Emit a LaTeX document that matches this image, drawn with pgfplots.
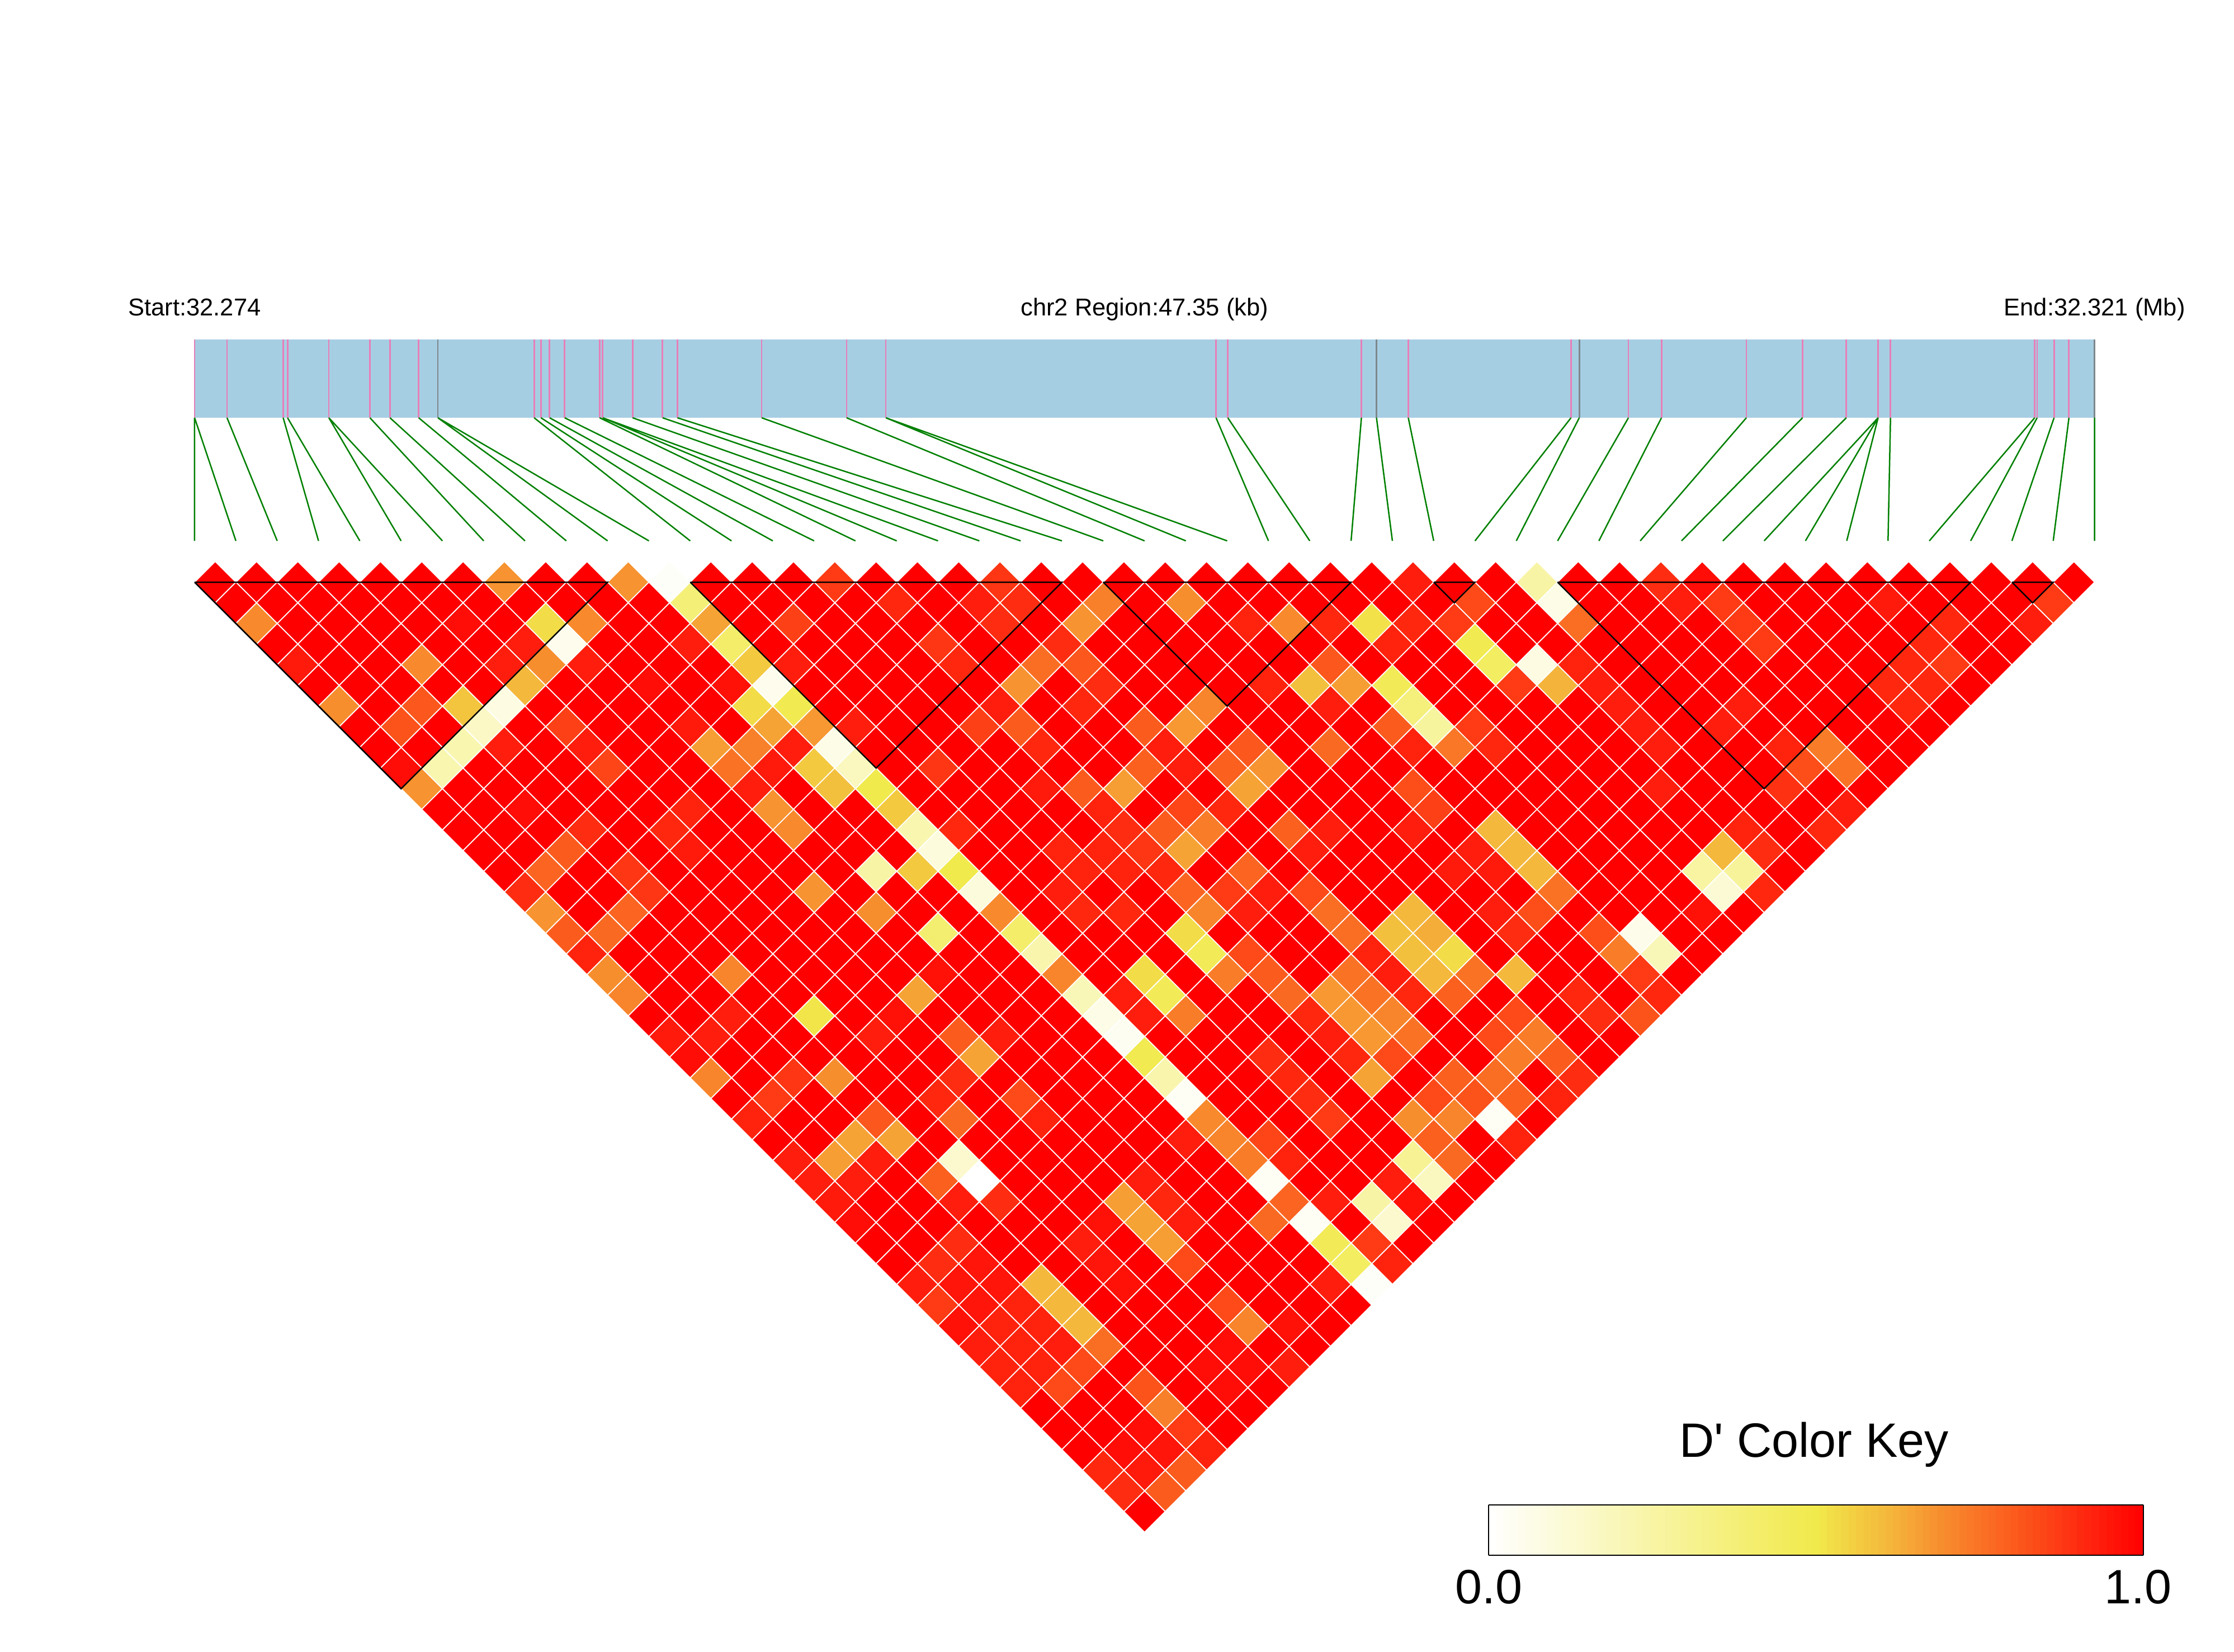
\documentclass[border=0pt]{standalone}
\usepackage{pgfplots}
\pgfplotsset{compat=1.18}
\usepackage{fontspec}
\setmainfont{Liberation Sans}
\newfontfamily\keyfont{Liberation Sans}
\definecolor{barblue}{RGB}{166,206,227}
\definecolor{snppink}{RGB}{231,127,184}
\definecolor{snpgrey}{RGB}{125,135,140}
\definecolor{linkgreen}{RGB}{0,128,0}
\begin{document}
\begin{tikzpicture}
\begin{axis}[
  scale only axis, width=1598pt, height=1181.2pt,
  xmin=-9.423, xmax=98.754, ymin=-27.188, ymax=52.774,
  y dir=reverse, hide axis, clip=false, clip mode=individual,
  colormap={ld}{rgb255(0pt)=(255,255,255); rgb255(50pt)=(241,234,76); rgb255(57pt)=(243,201,64); rgb255(61pt)=(244,184,60); rgb255(68pt)=(247,147,48); rgb255(76pt)=(250,110,36); rgb255(84pt)=(253,74,24); rgb255(93pt)=(255,30,13); rgb255(100pt)=(255,0,0)},
  colormap name=ld,
  point meta min=0, point meta max=1,
  colorbar horizontal, colorbar sampled,
  colorbar style={
    samples=90, at={(parent axis.south west)}, anchor=south west,
    xshift=1064.8pt, yshift=77.4pt,
    width=468.4pt, height=36pt,
    xtick={0,0.992}, xticklabels={0.0,1.0}, major tick length=0pt, ytick=\empty,
    xticklabel style={font=\fontsize{34.5}{36}\selectfont, yshift=-7pt},
    axis line style={black, line width=1pt}
  },
]
% chromosome bar
\addplot[fill=barblue, draw=none, forget plot] coordinates {(0,-10.75) (92,-10.75) (92,-6.96) (0,-6.96)} --cycle;
% SNP positions
\addplot[snppink, line width=1.1pt, forget plot, unbounded coords=jump] coordinates {
(0,-10.75)(0,-6.96)(nan,nan)(1.57,-10.75)(1.57,-6.96)(nan,nan)(4.29,-10.75)(4.29,-6.96)(nan,nan)(4.50,-10.75)(4.50,-6.96)(nan,nan)
(6.50,-10.75)(6.50,-6.96)(nan,nan)(8.49,-10.75)(8.49,-6.96)(nan,nan)(9.46,-10.75)(9.46,-6.96)(nan,nan)(10.85,-10.75)(10.85,-6.96)(nan,nan)
(16.44,-10.75)(16.44,-6.96)(nan,nan)(16.77,-10.75)(16.77,-6.96)(nan,nan)(17.19,-10.75)(17.19,-6.96)(nan,nan)(17.92,-10.75)(17.92,-6.96)(nan,nan)
(19.61,-10.75)(19.61,-6.96)(nan,nan)(19.76,-10.75)(19.76,-6.96)(nan,nan)(21.21,-10.75)(21.21,-6.96)(nan,nan)(22.66,-10.75)(22.66,-6.96)(nan,nan)
(23.38,-10.75)(23.38,-6.96)(nan,nan)(27.46,-10.75)(27.46,-6.96)(nan,nan)(31.57,-10.75)(31.57,-6.96)(nan,nan)(33.47,-10.75)(33.47,-6.96)(nan,nan)
(49.46,-10.75)(49.46,-6.96)(nan,nan)(50.03,-10.75)(50.03,-6.96)(nan,nan)(56.50,-10.75)(56.50,-6.96)(nan,nan)(58.77,-10.75)(58.77,-6.96)(nan,nan)
(66.65,-10.75)(66.65,-6.96)(nan,nan)(69.43,-10.75)(69.43,-6.96)(nan,nan)(71.03,-10.75)(71.03,-6.96)(nan,nan)(75.14,-10.75)(75.14,-6.96)(nan,nan)
(77.86,-10.75)(77.86,-6.96)(nan,nan)(79.98,-10.75)(79.98,-6.96)(nan,nan)(81.52,-10.75)(81.52,-6.96)(nan,nan)(82.12,-10.75)(82.12,-6.96)(nan,nan)
(89.10,-10.75)(89.10,-6.96)(nan,nan)(89.22,-10.75)(89.22,-6.96)(nan,nan)(90.04,-10.75)(90.04,-6.96)(nan,nan)(90.76,-10.75)(90.76,-6.96)
};
\addplot[snpgrey, line width=1.1pt, forget plot, unbounded coords=jump] coordinates {
(11.78,-10.75)(11.78,-6.96)(nan,nan)(57.23,-10.75)(57.23,-6.96)(nan,nan)(67.05,-10.75)(67.05,-6.96)(nan,nan)(92,-10.75)(92,-6.96)
};
% links from positions to the matrix
\addplot[linkgreen, line width=1pt, forget plot, unbounded coords=jump] coordinates {
(0,-6.96)(0,-1)(nan,nan)(0,-6.96)(2,-1)(nan,nan)(1.57,-6.96)(4,-1)(nan,nan)(4.29,-6.96)(6,-1)(nan,nan)(4.50,-6.96)(8,-1)(nan,nan)
(6.50,-6.96)(10,-1)(nan,nan)(6.50,-6.96)(12,-1)(nan,nan)(8.49,-6.96)(14,-1)(nan,nan)(9.46,-6.96)(16,-1)(nan,nan)(10.85,-6.96)(18,-1)(nan,nan)
(11.78,-6.96)(20,-1)(nan,nan)(11.78,-6.96)(22,-1)(nan,nan)(16.44,-6.96)(24,-1)(nan,nan)(16.77,-6.96)(26,-1)(nan,nan)(17.19,-6.96)(28,-1)(nan,nan)
(17.92,-6.96)(30,-1)(nan,nan)(19.61,-6.96)(32,-1)(nan,nan)(19.76,-6.96)(34,-1)(nan,nan)(19.76,-6.96)(36,-1)(nan,nan)(21.21,-6.96)(38,-1)(nan,nan)
(22.66,-6.96)(40,-1)(nan,nan)(23.38,-6.96)(42,-1)(nan,nan)(27.46,-6.96)(44,-1)(nan,nan)(31.57,-6.96)(46,-1)(nan,nan)(33.47,-6.96)(48,-1)(nan,nan)
(33.47,-6.96)(50,-1)(nan,nan)(49.46,-6.96)(52,-1)(nan,nan)(50.03,-6.96)(54,-1)(nan,nan)(56.50,-6.96)(56,-1)(nan,nan)(57.23,-6.96)(58,-1)(nan,nan)
(58.77,-6.96)(60,-1)(nan,nan)(66.65,-6.96)(62,-1)(nan,nan)(67.05,-6.96)(64,-1)(nan,nan)(69.43,-6.96)(66,-1)(nan,nan)(71.03,-6.96)(68,-1)(nan,nan)
(75.14,-6.96)(70,-1)(nan,nan)(77.86,-6.96)(72,-1)(nan,nan)(79.98,-6.96)(74,-1)(nan,nan)(81.52,-6.96)(76,-1)(nan,nan)(81.52,-6.96)(78,-1)(nan,nan)
(81.52,-6.96)(80,-1)(nan,nan)(82.12,-6.96)(82,-1)(nan,nan)(89.10,-6.96)(84,-1)(nan,nan)(89.22,-6.96)(86,-1)(nan,nan)(90.04,-6.96)(88,-1)(nan,nan)
(90.76,-6.96)(90,-1)(nan,nan)(92,-6.96)(92,-1)
};
% D' matrix: (i+j, j-i)[D']
\addplot[scatter, only marks, mark=square*, mark size=10.445pt, forget plot,
  scatter/use mapped color={draw=white, fill=mapped color},
  mark options={rotate=45, line width=0.7pt}, point meta=explicit] coordinates {
(1,1)[1] (3,1)[1] (5,1)[1] (7,1)[1] (9,1)[1] (11,1)[1] (13,1)[1] (15,1)[.68] (17,1)[1] (19,1)[1] (21,1)[.68] (23,1)[.02] (25,1)[1] (27,1)[1] (29,1)[1] (31,1)[.87] (33,1)[1] (35,1)[1] (37,1)[1] (39,1)[.88] (41,1)[1] (43,1)[1] (45,1)[1] (47,1)[1] (49,1)[1] (51,1)[1] (53,1)[1] (55,1)[1] (57,1)[1] (59,1)[.93] (61,1)[1] (63,1)[1] (65,1)[.25] (67,1)[1] (69,1)[1] (71,1)[.90] (73,1)[.97] (75,1)[1] (77,1)[1] (79,1)[1] (81,1)[1] (83,1)[1] (85,1)[1] (87,1)[1] (89,1)[1] (91,1)[1]
(2,2)[1] (4,2)[1] (6,2)[1] (8,2)[1] (10,2)[1] (12,2)[1] (14,2)[1] (16,2)[1] (18,2)[1] (20,2)[1] (22,2)[1] (24,2)[.38] (26,2)[1] (28,2)[1] (30,2)[1] (32,2)[1] (34,2)[.91] (36,2)[1] (38,2)[.93] (40,2)[.90] (42,2)[1] (44,2)[.72] (46,2)[1] (48,2)[.69] (50,2)[1] (52,2)[1] (54,2)[1] (56,2)[1] (58,2)[1] (60,2)[1] (62,2)[.84] (64,2)[1] (66,2)[.07] (68,2)[1] (70,2)[1] (72,2)[.93] (74,2)[.87] (76,2)[1] (78,2)[1] (80,2)[1] (82,2)[.94] (84,2)[1] (86,2)[1] (88,2)[1] (90,2)[.87]
(3,3)[.70] (5,3)[1] (7,3)[1] (9,3)[1] (11,3)[1] (13,3)[.97] (15,3)[1] (17,3)[.53] (19,3)[.70] (21,3)[1] (23,3)[1] (25,3)[.65] (27,3)[1] (29,3)[.86] (31,3)[1] (33,3)[1] (35,3)[1] (37,3)[1] (39,3)[.90] (41,3)[1] (43,3)[.68] (45,3)[1] (47,3)[1] (49,3)[1] (51,3)[.92] (53,3)[.70] (55,3)[.91] (57,3)[.52] (59,3)[.91] (61,3)[.87] (63,3)[1] (65,3)[1] (67,3)[.76] (69,3)[1] (71,3)[1] (73,3)[1] (75,3)[.87] (77,3)[1] (79,3)[1] (81,3)[1] (83,3)[1] (85,3)[.91] (87,3)[1] (89,3)[.93]
(4,4)[1] (6,4)[1] (8,4)[1] (10,4)[1] (12,4)[1] (14,4)[1] (16,4)[.93] (18,4)[.05] (20,4)[1] (22,4)[1] (24,4)[.93] (26,4)[.42] (28,4)[1] (30,4)[1] (32,4)[1] (34,4)[1] (36,4)[.88] (38,4)[1] (40,4)[1] (42,4)[.90] (44,4)[1] (46,4)[1] (48,4)[1] (50,4)[1] (52,4)[1] (54,4)[1] (56,4)[1] (58,4)[.92] (60,4)[1] (62,4)[.49] (64,4)[1] (66,4)[1] (68,4)[1] (70,4)[1] (72,4)[1] (74,4)[1] (76,4)[.87] (78,4)[1] (80,4)[1] (82,4)[1] (84,4)[.91] (86,4)[1] (88,4)[1]
(5,5)[.94] (7,5)[1] (9,5)[1] (11,5)[.70] (13,5)[1] (15,5)[.93] (17,5)[.69] (19,5)[.93] (21,5)[1] (23,5)[1] (25,5)[1] (27,5)[.57] (29,5)[.93] (31,5)[1] (33,5)[1] (35,5)[1] (37,5)[.91] (39,5)[1] (41,5)[.76] (43,5)[.81] (45,5)[1] (47,5)[1] (49,5)[1] (51,5)[1] (53,5)[1] (55,5)[.81] (57,5)[1] (59,5)[1] (61,5)[1] (63,5)[.44] (65,5)[.08] (67,5)[.92] (69,5)[1] (71,5)[1] (73,5)[1] (75,5)[1] (77,5)[1] (79,5)[1] (81,5)[1] (83,5)[.91] (85,5)[.87] (87,5)[1]
(6,6)[1] (8,6)[1] (10,6)[1] (12,6)[1] (14,6)[1] (16,6)[.61] (18,6)[1] (20,6)[1] (22,6)[.97] (24,6)[1] (26,6)[.96] (28,6)[.05] (30,6)[1] (32,6)[1] (34,6)[1] (36,6)[1] (38,6)[1] (40,6)[.68] (42,6)[1] (44,6)[.90] (46,6)[1] (48,6)[1] (50,6)[1] (52,6)[.92] (54,6)[.59] (56,6)[.66] (58,6)[.47] (60,6)[1] (62,6)[1] (64,6)[.87] (66,6)[.62] (68,6)[.93] (70,6)[1] (72,6)[1] (74,6)[1] (76,6)[1] (78,6)[1] (80,6)[1] (82,6)[.91] (84,6)[.91] (86,6)[1]
(7,7)[.69] (9,7)[1] (11,7)[.81] (13,7)[.58] (15,7)[.08] (17,7)[1] (19,7)[1] (21,7)[1] (23,7)[1] (25,7)[1] (27,7)[.53] (29,7)[.49] (31,7)[1] (33,7)[1] (35,7)[1] (37,7)[1] (39,7)[.93] (41,7)[1] (43,7)[.91] (45,7)[1] (47,7)[1] (49,7)[.71] (51,7)[1] (53,7)[1] (55,7)[.93] (57,7)[1] (59,7)[.37] (61,7)[1] (63,7)[1] (65,7)[1] (67,7)[1] (69,7)[.93] (71,7)[1] (73,7)[1] (75,7)[.93] (77,7)[1] (79,7)[1] (81,7)[1] (83,7)[.91] (85,7)[1]
(8,8)[1] (10,8)[.82] (12,8)[1] (14,8)[.16] (16,8)[1] (18,8)[.86] (20,8)[1] (22,8)[1] (24,8)[.94] (26,8)[1] (28,8)[.65] (30,8)[.67] (32,8)[.93] (34,8)[1] (36,8)[1] (38,8)[.86] (40,8)[.80] (42,8)[1] (44,8)[1] (46,8)[.80] (48,8)[.67] (50,8)[1] (52,8)[1] (54,8)[1] (56,8)[1] (58,8)[.80] (60,8)[.27] (62,8)[.87] (64,8)[1] (66,8)[1] (68,8)[1] (70,8)[.93] (72,8)[1] (74,8)[.93] (76,8)[1] (78,8)[1] (80,8)[1] (82,8)[1] (84,8)[1]
(9,9)[1] (11,9)[1] (13,9)[.22] (15,9)[.93] (17,9)[1] (19,9)[.93] (21,9)[1] (23,9)[1] (25,9)[.66] (27,9)[.72] (29,9)[.93] (31,9)[.07] (33,9)[1] (35,9)[1] (37,9)[1] (39,9)[1] (41,9)[.91] (43,9)[1] (45,9)[1] (47,9)[.93] (49,9)[1] (51,9)[.81] (53,9)[1] (55,9)[.77] (57,9)[1] (59,9)[.92] (61,9)[.74] (63,9)[.91] (65,9)[1] (67,9)[1] (69,9)[1] (71,9)[.93] (73,9)[1] (75,9)[1] (77,9)[.92] (79,9)[.73] (81,9)[1] (83,9)[1]
(10,10)[.97] (12,10)[.22] (14,10)[1] (16,10)[1] (18,10)[1] (20,10)[.85] (22,10)[1] (24,10)[1] (26,10)[.75] (28,10)[.94] (30,10)[.57] (32,10)[.18] (34,10)[1] (36,10)[.88] (38,10)[1] (40,10)[1] (42,10)[1] (44,10)[1] (46,10)[.79] (48,10)[.93] (50,10)[.79] (52,10)[.68] (54,10)[1] (56,10)[1] (58,10)[1] (60,10)[1] (62,10)[1] (64,10)[1] (66,10)[1] (68,10)[1] (70,10)[1] (72,10)[1] (74,10)[1] (76,10)[1] (78,10)[.83] (80,10)[.75] (82,10)[1]
(11,11)[.68] (13,11)[1] (15,11)[1] (17,11)[1] (19,11)[1] (21,11)[1] (23,11)[1] (25,11)[1] (27,11)[.93] (29,11)[1] (31,11)[.59] (33,11)[.50] (35,11)[1] (37,11)[1] (39,11)[1] (41,11)[.94] (43,11)[.80] (45,11)[.66] (47,11)[1] (49,11)[1] (51,11)[.65] (53,11)[1] (55,11)[1] (57,11)[1] (59,11)[.83] (61,11)[1] (63,11)[1] (65,11)[1] (67,11)[1] (69,11)[1] (71,11)[.93] (73,11)[1] (75,11)[1] (77,11)[.89] (79,11)[1] (81,11)[1]
(12,12)[1] (14,12)[1] (16,12)[.97] (18,12)[1] (20,12)[1] (22,12)[1] (24,12)[.92] (26,12)[1] (28,12)[.68] (30,12)[1] (32,12)[1] (34,12)[.57] (36,12)[1] (38,12)[1] (40,12)[1] (42,12)[1] (44,12)[.92] (46,12)[1] (48,12)[.85] (50,12)[.91] (52,12)[1] (54,12)[1] (56,12)[1] (58,12)[1] (60,12)[.86] (62,12)[1] (64,12)[1] (66,12)[1] (68,12)[1] (70,12)[1] (72,12)[1] (74,12)[1] (76,12)[1] (78,12)[1] (80,12)[.93]
(13,13)[1] (15,13)[1] (17,13)[1] (19,13)[.90] (21,13)[1] (23,13)[.91] (25,13)[1] (27,13)[1] (29,13)[.70] (31,13)[1] (33,13)[1] (35,13)[.22] (37,13)[.91] (39,13)[1] (41,13)[1] (43,13)[1] (45,13)[.90] (47,13)[.80] (49,13)[.73] (51,13)[1] (53,13)[.79] (55,13)[.93] (57,13)[1] (59,13)[.93] (61,13)[1] (63,13)[.61] (65,13)[1] (67,13)[1] (69,13)[1] (71,13)[1] (73,13)[1] (75,13)[.92] (77,13)[1] (79,13)[.91]
(14,14)[1] (16,14)[1] (18,14)[.80] (20,14)[1] (22,14)[1] (24,14)[.94] (26,14)[1] (28,14)[1] (30,14)[1] (32,14)[1] (34,14)[1] (36,14)[.10] (38,14)[1] (40,14)[1] (42,14)[.92] (44,14)[.92] (46,14)[.88] (48,14)[.65] (50,14)[1] (52,14)[1] (54,14)[.93] (56,14)[1] (58,14)[1] (60,14)[1] (62,14)[.93] (64,14)[.61] (66,14)[1] (68,14)[1] (70,14)[1] (72,14)[1] (74,14)[.61] (76,14)[.90] (78,14)[1]
(15,15)[1] (17,15)[.78] (19,15)[1] (21,15)[.88] (23,15)[1] (25,15)[1] (27,15)[1] (29,15)[1] (31,15)[1] (33,15)[.25] (35,15)[.57] (37,15)[.50] (39,15)[1] (41,15)[1] (43,15)[.92] (45,15)[.92] (47,15)[.91] (49,15)[1] (51,15)[.78] (53,15)[1] (55,15)[1] (57,15)[1] (59,15)[1] (61,15)[.94] (63,15)[.94] (65,15)[.61] (67,15)[1] (69,15)[1] (71,15)[1] (73,15)[.26] (75,15)[.28] (77,15)[1]
(16,16)[.90] (18,16)[1] (20,16)[1] (22,16)[.88] (24,16)[1] (26,16)[1] (28,16)[1] (30,16)[.68] (32,16)[1] (34,16)[1] (36,16)[1] (38,16)[.10] (40,16)[1] (42,16)[.93] (44,16)[1] (46,16)[1] (48,16)[.78] (50,16)[.87] (52,16)[.93] (54,16)[.84] (56,16)[1] (58,16)[1] (60,16)[1] (62,16)[1] (64,16)[1] (66,16)[.75] (68,16)[1] (70,16)[1] (72,16)[1] (74,16)[.12] (76,16)[.91]
(17,17)[.68] (19,17)[1] (21,17)[.78] (23,17)[1] (25,17)[1] (27,17)[1] (29,17)[1] (31,17)[1] (33,17)[.69] (35,17)[1] (37,17)[1] (39,17)[.70] (41,17)[1] (43,17)[.91] (45,17)[.91] (47,17)[1] (49,17)[.71] (51,17)[.93] (53,17)[1] (55,17)[.76] (57,17)[1] (59,17)[.61] (61,17)[1] (63,17)[.93] (65,17)[.83] (67,17)[1] (69,17)[1] (71,17)[1] (73,17)[.96] (75,17)[1]
(18,18)[.80] (20,18)[.77] (22,18)[1] (24,18)[1] (26,18)[1] (28,18)[1] (30,18)[1] (32,18)[1] (34,18)[1] (36,18)[.40] (38,18)[1] (40,18)[.42] (42,18)[1] (44,18)[1] (46,18)[1] (48,18)[.53] (50,18)[1] (52,18)[1] (54,18)[1] (56,18)[.76] (58,18)[.59] (60,18)[.63] (62,18)[1] (64,18)[.90] (66,18)[1] (68,18)[.83] (70,18)[.06] (72,18)[1] (74,18)[1]
(19,19)[.92] (21,19)[1] (23,19)[1] (25,19)[1] (27,19)[1] (29,19)[1] (31,19)[1] (33,19)[1] (35,19)[1] (37,19)[1] (39,19)[1] (41,19)[.23] (43,19)[1] (45,19)[1] (47,19)[1] (49,19)[.47] (51,19)[.84] (53,19)[1] (55,19)[1] (57,19)[.92] (59,19)[.59] (61,19)[.53] (63,19)[1] (65,19)[1] (67,19)[1] (69,19)[.73] (71,19)[.20] (73,19)[1]
(20,20)[.69] (22,20)[1] (24,20)[1] (26,20)[.71] (28,20)[1] (30,20)[1] (32,20)[1] (34,20)[1] (36,20)[.96] (38,20)[1] (40,20)[1] (42,20)[.71] (44,20)[1] (46,20)[.53] (48,20)[1] (50,20)[.73] (52,20)[.80] (54,20)[1] (56,20)[.75] (58,20)[.93] (60,20)[.61] (62,20)[.75] (64,20)[.61] (66,20)[1] (68,20)[1] (70,20)[.87] (72,20)[1]
(21,21)[.71] (23,21)[1] (25,21)[1] (27,21)[1] (29,21)[1] (31,21)[1] (33,21)[1] (35,21)[.65] (37,21)[1] (39,21)[1] (41,21)[1] (43,21)[.20] (45,21)[.93] (47,21)[.47] (49,21)[1] (51,21)[1] (53,21)[.77] (55,21)[.67] (57,21)[.75] (59,21)[.91] (61,21)[.79] (63,21)[1] (65,21)[1] (67,21)[.91] (69,21)[1] (71,21)[.91]
(22,22)[1] (24,22)[1] (26,22)[.93] (28,22)[1] (30,22)[.51] (32,22)[1] (34,22)[.96] (36,22)[1] (38,22)[1] (40,22)[1] (42,22)[1] (44,22)[.07] (46,22)[.93] (48,22)[.73] (50,22)[1] (52,22)[1] (54,22)[.91] (56,22)[.67] (58,22)[.71] (60,22)[1] (62,22)[1] (64,22)[.84] (66,22)[1] (68,22)[.90] (70,22)[.82]
(23,23)[.94] (25,23)[.93] (27,23)[1] (29,23)[1] (31,23)[1] (33,23)[.93] (35,23)[1] (37,23)[.80] (39,23)[.93] (41,23)[1] (43,23)[1] (45,23)[.04] (47,23)[1] (49,23)[1] (51,23)[1] (53,23)[1] (55,23)[.93] (57,23)[.67] (59,23)[.75] (61,23)[1] (63,23)[.84] (65,23)[.73] (67,23)[1] (69,23)[1]
(24,24)[.97] (26,24)[1] (28,24)[1] (30,24)[1] (32,24)[1] (34,24)[1] (36,24)[1] (38,24)[.65] (40,24)[1] (42,24)[1] (44,24)[1] (46,24)[.49] (48,24)[1] (50,24)[1] (52,24)[.90] (54,24)[1] (56,24)[.91] (58,24)[.84] (60,24)[1] (62,24)[1] (64,24)[.73] (66,24)[.80] (68,24)[1]
(25,25)[.71] (27,25)[1] (29,25)[.88] (31,25)[.69] (33,25)[1] (35,25)[1] (37,25)[.90] (39,25)[1] (41,25)[1] (43,25)[1] (45,25)[1] (47,25)[.23] (49,25)[1] (51,25)[1] (53,25)[.91] (55,25)[1] (57,25)[.65] (59,25)[1] (61,25)[.79] (63,25)[.76] (65,25)[1] (67,25)[.90]
(26,26)[1] (28,26)[.87] (30,26)[1] (32,26)[1] (34,26)[1] (36,26)[.91] (38,26)[1] (40,26)[.84] (42,26)[1] (44,26)[1] (46,26)[1] (48,26)[.03] (50,26)[1] (52,26)[1] (54,26)[.90] (56,26)[1] (58,26)[1] (60,26)[.84] (62,26)[.82] (64,26)[.79] (66,26)[.92]
(27,27)[.92] (29,27)[1] (31,27)[1] (33,27)[.81] (35,27)[1] (37,27)[.77] (39,27)[1] (41,27)[.92] (43,27)[1] (45,27)[1] (47,27)[1] (49,27)[.70] (51,27)[1] (53,27)[1] (55,27)[.87] (57,27)[1] (59,27)[.69] (61,27)[.71] (63,27)[.03] (65,27)[1]
(28,28)[1] (30,28)[1] (32,28)[.65] (34,28)[.65] (36,28)[1] (38,28)[1] (40,28)[1] (42,28)[1] (44,28)[1] (46,28)[1] (48,28)[.93] (50,28)[.71] (52,28)[.85] (54,28)[1] (56,28)[1] (58,28)[1] (60,28)[.79] (62,28)[1] (64,28)[.92]
(29,29)[.93] (31,29)[.66] (33,29)[.93] (35,29)[1] (37,29)[.14] (39,29)[1] (41,29)[1] (43,29)[1] (45,29)[1] (47,29)[1] (49,29)[1] (51,29)[.73] (53,29)[.92] (55,29)[1] (57,29)[1] (59,29)[.30] (61,29)[.77] (63,29)[1]
(30,30)[.93] (32,30)[.93] (34,30)[1] (36,30)[.79] (38,30)[0] (40,30)[1] (42,30)[1] (44,30)[1] (46,30)[.93] (48,30)[1] (50,30)[1] (52,30)[.03] (54,30)[1] (56,30)[1] (58,30)[.93] (60,30)[.18] (62,30)[1]
(31,31)[.94] (33,31)[1] (35,31)[1] (37,31)[.93] (39,31)[.90] (41,31)[1] (43,31)[1] (45,31)[.66] (47,31)[.91] (49,31)[1] (51,31)[1] (53,31)[.78] (55,31)[.93] (57,31)[.25] (59,31)[.96] (61,31)[1]
(32,32)[.97] (34,32)[1] (36,32)[1] (38,32)[1] (40,32)[1] (42,32)[1] (44,32)[.96] (46,32)[.65] (48,32)[.93] (50,32)[1] (52,32)[.77] (54,32)[.03] (56,32)[1] (58,32)[.14] (60,32)[1]
(33,33)[1] (35,33)[1] (37,33)[.90] (39,33)[1] (41,33)[1] (43,33)[.93] (45,33)[1] (47,33)[.66] (49,33)[1] (51,33)[1] (53,33)[1] (55,33)[.47] (57,33)[.87] (59,33)[1]
(34,34)[1] (36,34)[.90] (38,34)[.95] (40,34)[1] (42,34)[1] (44,34)[.95] (46,34)[1] (48,34)[.84] (50,34)[1] (52,34)[1] (54,34)[1] (56,34)[.44] (58,34)[.92]
(35,35)[.93] (37,35)[.95] (39,35)[.95] (41,35)[.61] (43,35)[1] (45,35)[.96] (47,35)[1] (49,35)[1] (51,35)[1] (53,35)[1] (55,35)[.93] (57,35)[.02]
(36,36)[.87] (38,36)[.95] (40,36)[.92] (42,36)[.61] (44,36)[1] (46,36)[1] (48,36)[1] (50,36)[.84] (52,36)[1] (54,36)[1] (56,36)[1]
(37,37)[.96] (39,37)[.92] (41,37)[.92] (43,37)[.61] (45,37)[1] (47,37)[1] (49,37)[1] (51,37)[.71] (53,37)[.96] (55,37)[1]
(38,38)[.93] (40,38)[.92] (42,38)[.93] (44,38)[.76] (46,38)[1] (48,38)[1] (50,38)[.97] (52,38)[1] (54,38)[1]
(39,39)[.92] (41,39)[.92] (43,39)[.84] (45,39)[1] (47,39)[1] (49,39)[.97] (51,39)[.97] (53,39)[.93]
(40,40)[.92] (42,40)[.84] (44,40)[1] (46,40)[.82] (48,40)[1] (50,40)[.97] (52,40)[1]
(41,41)[1] (43,41)[1] (45,41)[1] (47,41)[.72] (49,41)[1] (51,41)[1]
(42,42)[1] (44,42)[1] (46,42)[.97] (48,42)[.87] (50,42)[1]
(43,43)[1] (45,43)[.97] (47,43)[.95] (49,43)[.92]
(44,44)[.91] (46,44)[.94] (48,44)[.80]
(45,45)[.90] (47,45)[.80]
(46,46)[1]
};
% haplotype blocks
\addplot[black, line width=1pt, forget plot] coordinates {(0,1) (20,1) (10,11) (0,1)};
\addplot[black, line width=1pt, forget plot] coordinates {(24,1) (42,1) (33,10) (24,1)};
\addplot[black, line width=1pt, forget plot] coordinates {(44,1) (56,1) (50,7) (44,1)};
\addplot[black, line width=1pt, forget plot] coordinates {(60,1) (62,1) (61,2) (60,1)};
\addplot[black, line width=1pt, forget plot] coordinates {(66,1) (86,1) (76,11) (66,1)};
\addplot[black, line width=1pt, forget plot] coordinates {(88,1) (90,1) (89,2) (88,1)};
% texts
\node[anchor=base, font=\fontsize{17.4}{20}\selectfont] at (axis cs:0,-11.89) {Start:32.274};
\node[anchor=base, font=\fontsize{17.4}{20}\selectfont] at (axis cs:46,-11.89) {chr2 Region:47.35 (kb)};
\node[anchor=base, font=\fontsize{17.4}{20}\selectfont] at (axis cs:92,-11.89) {End:32.321 (Mb)};
\node[anchor=base, font=\keyfont\fontsize{34.5}{38}\selectfont] at (axis cs:78.42,43.35) {D' Color Key};
\path (axis cs:-9.423,-27.188) (axis cs:98.754,52.774);
\end{axis}
\end{tikzpicture}
\end{document}
